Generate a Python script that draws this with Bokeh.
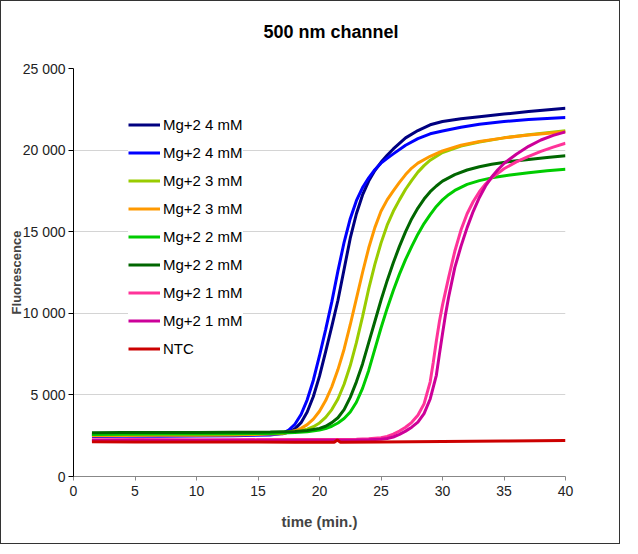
from bokeh.plotting import figure
from bokeh.models import (Range1d, FixedTicker, CustomJSTickFormatter, Legend,
                          LegendItem, Title)
from bokeh.embed import file_html
from bokeh.resources import INLINE

# ---- data (time in min, fluorescence) ----
t_mg4a = [1.5, 4, 7, 10, 13, 16, 17.0, 17.5, 18.0, 18.5, 19.0, 19.5, 20.0, 20.5, 21.0, 21.5, 22.0, 22.5,
          23.0, 23.5, 24.0, 24.5, 25.0, 25.5, 26.0, 27.0, 28.0, 29.0, 30.0, 31.5, 33.0, 35.0, 37.0, 40]
f_mg4a = [2550, 2560, 2570, 2580, 2590, 2600, 2620, 2720, 2920, 3300, 3950, 4900, 6150, 7650, 9200, 10800, 12700, 14600,
          16100, 17250, 18100, 18750, 19250, 19680, 20070, 20750, 21200, 21550, 21750, 21920, 22050, 22210, 22360, 22570]

t_mg4b = [1.5, 4, 7, 10, 13, 16, 17.0, 17.5, 18.0, 18.5, 19.0, 19.5, 20.0, 20.5, 21.0, 21.5, 22.0, 22.5,
          23.0, 23.5, 24.0, 24.5, 25.0, 25.5, 26.0, 27.0, 28.0, 29.0, 30.0, 31.5, 33.0, 35.0, 37.0, 40]
f_mg4b = [2450, 2460, 2470, 2480, 2500, 2540, 2650, 2850, 3200, 3800, 4700, 5900, 7400, 9000, 10700, 12600, 14350, 15800,
          16900, 17700, 18300, 18800, 19200, 19500, 19770, 20300, 20700, 21000, 21170, 21400, 21580, 21750, 21870, 22000]

t_mg3a = [1.5, 4, 7, 10, 13, 16, 17, 18, 19, 19.5, 20.0, 20.5, 21.0, 21.5, 22.0, 22.5, 23.0, 23.5, 24.0,
          24.5, 25.0, 25.5, 26.0, 26.5, 27.0, 27.5, 28.0, 28.5, 29.0, 30.0, 31.5, 33.0, 35.0, 37.0, 40]
f_mg3a = [2600, 2610, 2620, 2630, 2640, 2680, 2700, 2760, 2900, 3050, 3280, 3620, 4100, 4750, 5650, 6800, 8200, 9800, 11500,
          13000, 14300, 15400, 16250, 16950, 17600, 18150, 18650, 19050, 19380, 19850, 20250, 20500, 20750, 20940, 21180]

t_mg3b = [1.5, 4, 7, 10, 13, 16, 17, 18, 18.5, 19.0, 19.5, 20.0, 20.5, 21.0, 21.5, 22.0, 22.5, 23.0, 23.5,
          24.0, 24.5, 25.0, 25.5, 26.0, 26.5, 27.0, 27.5, 28.0, 29.0, 30.0, 31.5, 33.0, 35.0, 37.0, 40]
f_mg3b = [2500, 2510, 2520, 2530, 2550, 2600, 2640, 2800, 2950, 3180, 3520, 4000, 4650, 5500, 6550, 7800, 9300, 10900, 12500,
          14000, 15250, 16250, 16950, 17500, 18020, 18500, 18900, 19200, 19620, 19950, 20300, 20530, 20750, 20930, 21120]

t_mg2a = [1.5, 4, 7, 10, 13, 16, 18, 19, 20.0, 20.5, 21.0, 21.5, 22.0, 22.5, 23.0, 23.5, 24.0, 24.5, 25.0,
          25.5, 26.0, 26.5, 27.0, 27.5, 28.0, 28.5, 29.0, 29.5, 30.0, 30.5, 31.0, 32.0, 33.0, 34.0, 35.5, 37.0, 38.5, 40]
f_mg2a = [2580, 2590, 2600, 2610, 2620, 2640, 2690, 2740, 2850, 2940, 3080, 3280, 3550, 3950, 4550, 5400, 6500, 7800, 9100,
          10300, 11400, 12400, 13300, 14100, 14850, 15500, 16050, 16550, 16950, 17270, 17530, 17900, 18130, 18300, 18480,
          18610, 18730, 18830]

t_mg2b = [1.5, 4, 7, 10, 13, 16, 18, 19, 20.0, 20.5, 21.0, 21.5, 22.0, 22.5, 23.0, 23.5, 24.0, 24.5, 25.0,
          25.5, 26.0, 26.5, 27.0, 27.5, 28.0, 28.5, 29.0, 29.5, 30.0, 31.0, 32.0, 33.0, 34.0, 35.5, 37.0, 38.5, 40]
f_mg2b = [2680, 2690, 2700, 2700, 2710, 2720, 2760, 2820, 2950, 3080, 3300, 3600, 4100, 4850, 5800, 6900, 8200, 9500, 10800,
          12000, 13100, 14100, 15000, 15800, 16450, 17000, 17450, 17800, 18100, 18500, 18780, 18980, 19130, 19300, 19420,
          19540, 19650]

t_mg1a = [1.5, 5, 10, 15, 20, 23, 24, 25.0, 25.5, 26.0, 26.5, 27.0, 27.5, 28.0, 28.5, 29.0, 29.25, 29.5, 29.75,
          30.0, 30.5, 31.0, 31.5, 32.0, 32.5, 33.0, 33.5, 34.0, 35.0, 36.0, 37.0, 38.0, 39.0, 40]
f_mg1a = [2250, 2260, 2250, 2260, 2270, 2290, 2310, 2370, 2460, 2600, 2790, 3020, 3320, 3750, 4450, 5800, 7000, 8300, 9500,
          10500, 12200, 13800, 15100, 16100, 16850, 17450, 17920, 18300, 18860, 19280, 19620, 19920, 20180, 20420]

t_mg1b = [1.5, 5, 10, 15, 20, 23, 24, 25.0, 25.5, 26.0, 26.5, 27.0, 27.5, 28.0, 28.5, 29.0, 29.5, 29.75, 30.0,
          30.25, 30.5, 31.0, 31.5, 32.0, 32.5, 33.0, 33.5, 34.0, 34.5, 35.0, 36.0, 37.0, 38.0, 39.0, 40]
f_mg1b = [2200, 2210, 2200, 2210, 2220, 2230, 2250, 2280, 2330, 2420, 2580, 2780, 3020, 3330, 3850, 4750, 6200, 7500, 8750,
          9950, 11000, 12800, 14100, 15250, 16250, 17100, 17800, 18350, 18800, 19180, 19750, 20230, 20620, 20900, 21120]

t_ntc = [1.5, 5, 10, 15, 18, 21.2, 21.45, 21.7, 25, 30, 35, 40]
f_ntc = [2130, 2120, 2110, 2110, 2100, 2100, 2230, 2100, 2120, 2150, 2180, 2200]

series_labels = ["Mg+2 4 mM", "Mg+2 4 mM", "Mg+2 3 mM", "Mg+2 3 mM", "Mg+2 2 mM",
                 "Mg+2 2 mM", "Mg+2 1 mM", "Mg+2 1 mM", "NTC"]
series_colors = ["#000080", "#0000ff", "#99cc00", "#ff9900", "#00cc00",
                 "#006600", "#ff3399", "#cc0099", "#cc0000"]
series_t = [t_mg4a, t_mg4b, t_mg3a, t_mg3b, t_mg2a, t_mg2b, t_mg1a, t_mg1b, t_ntc]
series_f = [f_mg4a, f_mg4b, f_mg3a, f_mg3b, f_mg2a, f_mg2b, f_mg1a, f_mg1b, f_ntc]

x_ticks = [0, 5, 10, 15, 20, 25, 30, 35, 40]
y_ticks = [0, 5000, 10000, 15000, 20000, 25000]

FONT = "Liberation Sans"

p = figure(width=620, height=544, output_backend="svg", toolbar_location=None,
           x_range=Range1d(0, 40), y_range=Range1d(0, 25000),
           min_border_left=72, min_border_right=56, min_border_top=67, min_border_bottom=69,
           background_fill_color="white", border_fill_color="white")
p.styles = {"border": "1px solid #333333"}
p.outline_line_color = None

# spacer between the title and the plot area
spacer = Title(text=" ", text_font_size="2px", standoff=23, text_color="white")
p.add_layout(spacer, "above")
title = Title(text="500 nm channel", align="left", offset=190, standoff=0,
              text_font=FONT, text_font_size="18px", text_font_style="bold", text_color="black")
p.add_layout(title, "above")

p.xgrid.visible = False
p.ygrid.grid_line_color = "#d4d4d4"
p.ygrid.grid_line_width = 1

p.yaxis.ticker = FixedTicker(ticks=y_ticks)
p.xaxis.ticker = FixedTicker(ticks=x_ticks)
p.yaxis.formatter = CustomJSTickFormatter(
    code="return Math.round(tick).toString().replace(/\\B(?=(\\d{3})+(?!\\d))/g, ' ');")

for ax in (p.xaxis[0], p.yaxis[0]):
    ax.major_label_text_font = FONT
    ax.major_label_text_font_size = "14px"
    ax.major_label_text_color = "#222222"
    ax.axis_label_text_font = FONT
    ax.axis_label_text_font_style = "bold"
    ax.major_tick_in = 0
    ax.minor_tick_in = 0
    ax.minor_tick_out = 0

p.yaxis.axis_label = "Fluorescence"
p.yaxis.axis_label_text_font_size = "13px"
p.yaxis.axis_line_color = "black"
p.yaxis.major_tick_line_color = "black"
p.yaxis.major_tick_out = 5
p.yaxis.major_label_standoff = 3
p.yaxis.axis_label_standoff = -4

p.xaxis.axis_label = "time (min.)"
p.xaxis.axis_label_text_font_size = "15px"
p.xaxis.axis_line_color = "#888888"
p.xaxis.major_tick_line_color = "#888888"
p.xaxis.major_tick_out = 4
p.xaxis.major_label_standoff = 5
p.xaxis.axis_label_standoff = 14

items = []
for lab, col, tt, ff in zip(series_labels, series_colors, series_t, series_f):
    r = p.line(tt, ff, line_color=col, line_width=3)
    items.append(LegendItem(label=lab, renderers=[r]))

legend = Legend(items=items, location=(55, 117), orientation="vertical",
                label_text_font=FONT, label_text_font_size="15px", label_text_color="black",
                glyph_width=32, glyph_height=21, label_height=21, label_standoff=3,
                spacing=7, padding=10, margin=0,
                background_fill_color="white", background_fill_alpha=1.0,
                border_line_color=None)
p.add_layout(legend, "center")

open("out.html", "w").write(file_html(p, INLINE))
